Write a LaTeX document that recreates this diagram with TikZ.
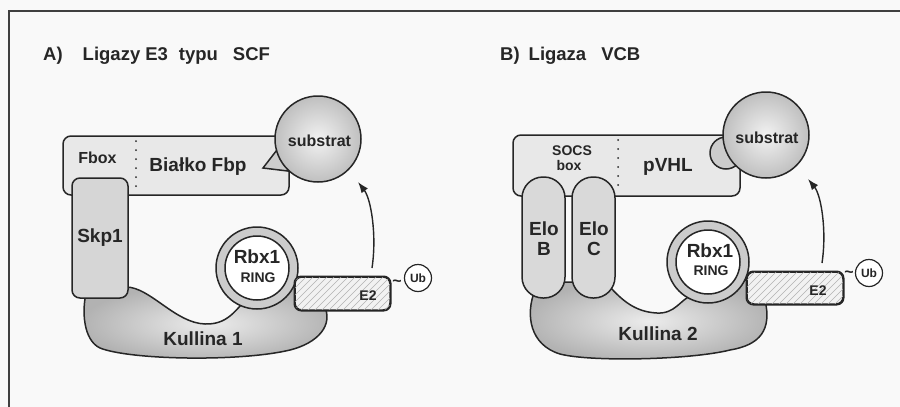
\documentclass[tikz,border=0pt]{standalone}
\usepackage{fontspec}
\setmainfont{Liberation Sans}
\usetikzlibrary{arrows.meta}

\begin{document}
\begin{tikzpicture}[x=1pt,y=-1pt,
  outline/.style={draw=black!85,line width=1.5pt},
  protbox/.style={outline,rectangle,rounded corners=8pt,fill=gray!18,inner sep=0pt},
  skpbox/.style={outline,rectangle,rounded corners=8pt,fill=gray!32,inner sep=0pt,minimum width=56pt,minimum height=120pt},
  elobox/.style={outline,rectangle,rounded corners=21pt,fill=gray!30,inner sep=0pt,minimum width=43pt,minimum height=121pt},
  substr/.style={outline,circle,inner sep=0pt,minimum size=86pt,inner color=gray!10,outer color=gray!50},
  ringouter/.style={outline,circle,fill=gray!40,inner sep=0pt,minimum size=82pt},
  ringinner/.style={outline,circle,fill=white,inner sep=0pt,minimum size=64pt},
  e2box/.style={outline,rectangle,rounded corners=7pt,fill=gray!10,inner sep=0pt,minimum width=95pt,minimum height=33pt},
  ubcirc/.style={outline,line width=1.2pt,circle,fill=white,inner sep=0pt,minimum size=27pt,text=black!85,font=\bfseries\fontsize{12}{12}\selectfont},
  hatch/.style={gray!60,line width=0.6pt},
  lbl/.style={inner sep=0pt,anchor=base,text=black!85,font=\bfseries\fontsize{19}{19}\selectfont},
  lblsmall/.style={lbl,font=\bfseries\fontsize{14}{14}\selectfont},
  lblmid/.style={lbl,font=\bfseries\fontsize{16}{16}\selectfont},
  title/.style={lbl,anchor=base west,font=\bfseries\fontsize{18.5}{18.5}\selectfont},
  dots/.style={black!85,line width=2pt,line cap=round,dash pattern=on 0pt off 9pt},
  ubarrow/.style={black!85,line width=1.4pt,-{Latex[length=11pt,width=8pt]}},
]
\useasboundingbox (0,0) rectangle (900,407);
\fill[gray!5] (0,0) rectangle (900,407);
\draw[line width=2pt,black!75] (9,407) -- (9,11) -- (900,11);

% A) SCF
\node[title] (ttlA) at (43,60) {A)\hspace{20pt}Ligazy\hspace{5pt}E3\hspace{11pt}typu\hspace{15pt}SCF};

\node[protbox,minimum width=226pt,minimum height=59pt] (fbpA) at (176,165.5) {};
\draw[dots] (136,141) -- (136,193);

\draw[outline,fill=gray!40] (263,168) -- (280,146) -- (296,172) -- cycle;
\node[substr] (subA) at (318,139) {};

\draw[outline,inner color=gray!15,outer color=gray!60] (126,287)
  .. controls (150,287) and (175,323) .. (205,324)
  .. controls (232,325) and (238,303) .. (250,298)
  -- (280,285) -- (305,285) -- (324,305)
  .. controls (334,325) and (318,343) .. (290,350)
  .. controls (240,362) and (130,360) .. (100,348)
  .. controls (83,340) and (82,310) .. (86,294) -- cycle;

\node[skpbox] (skpA) at (100,238) {};

\node[ringouter] (ringA) at (257,268) {};
\node[ringinner] (rbxA) at (ringA.center) {};

\node[e2box] (e2A) at (342.5,293.5) {};
\begin{scope}
  \clip[rounded corners=7pt] (e2A.south west) rectangle (e2A.north east);
  \foreach \h in {250,257,...,400}
    \draw[hatch] (\h,312) -- ++(36,-36);
\end{scope}
\draw[outline,rounded corners=7pt] (e2A.south west) rectangle (e2A.north east);

\node[lblmid] (tilA) at (397,286) {\textasciitilde};
\node[ubcirc] (ubA) at (418,278) {Ub};

\coordinate (arrA0) at (372,268);
\coordinate (arrA1) at (358,182);
\draw[ubarrow] (arrA0) .. controls (377,235) and (371,199) .. (arrA1);

\node[lblmid] (fboxA) at (97.5,163) {Fbox};
\node[lbl] (fbpAtxt) at (198,171) {Białko Fbp};
\node[lblmid] (subAtxt) at (319.5,146) {substrat};
\node[lbl] (skpAtxt) at (100,242) {Skp1};
\node[lbl] (rbxAtxt) at (257,263) {Rbx1};
\node[lblsmall] (ringAtxt) at (258,282) {RING};
\node[lbl] (kulAtxt) at (203,345) {Kullina 1};
\node[lblsmall] (e2Atxt) at (368,300) {E2};

% B) VCB
\node[title] (ttlB) at (500,60) {B)\hspace{9pt}Ligaza\hspace{15pt}VCB};

\node[protbox,minimum width=227pt,minimum height=61pt] (vhlB) at (626.5,165.5) {};
\draw[dots] (618,140) -- (618,193);

\draw[outline,fill=gray!40] (726,153) circle (16pt);
\node[substr] (subB) at (766,135) {};

\draw[outline,inner color=gray!15,outer color=gray!60] (610,287)
  .. controls (622,300) and (635,312) .. (657,313)
  .. controls (675,314) and (680,300) .. (692,295)
  -- (730,280) -- (755,280) -- (765,300)
  .. controls (772,330) and (760,345) .. (730,350)
  .. controls (690,360) and (590,362) .. (560,354)
  .. controls (530,345) and (525,315) .. (535,290)
  -- (550,282) -- (600,282) -- cycle;

\node[elobox] (eloB) at (543.5,237.5) {};
\node[elobox] (eloC) at (593.5,237.5) {};

\node[ringouter] (ringB) at (708,262) {};
\node[ringinner] (rbxB) at (ringB.center) {};

\node[e2box,minimum width=96pt,minimum height=32pt] (e2B) at (795,288) {};
\begin{scope}
  \clip[rounded corners=7pt] (e2B.south west) rectangle (e2B.north east);
  \foreach \h in {700,707,...,850}
    \draw[hatch] (\h,306) -- ++(36,-36);
\end{scope}
\draw[outline,rounded corners=7pt] (e2B.south west) rectangle (e2B.north east);

\node[lblmid] (tilB) at (849,277) {\textasciitilde};
\node[ubcirc] (ubB) at (869,273) {Ub};

\coordinate (arrB0) at (822,263);
\coordinate (arrB1) at (808,179);
\draw[ubarrow] (arrB0) .. controls (827,230) and (821,195) .. (arrB1);

\node[lblsmall] (socsB) at (572,155) {SOCS};
\node[lblsmall] (boxB) at (569,170) {box};
\node[lbl] (vhlBtxt) at (668,171) {pVHL};
\node[lblmid] (subBtxt) at (767,143) {substrat};
\node[lbl] (eloBtxt) at (544,235) {Elo};
\node[lbl] (eloBlet) at (544,255) {B};
\node[lbl] (eloCtxt) at (594,235) {Elo};
\node[lbl] (eloClet) at (594,255) {C};
\node[lbl] (rbxBtxt) at (710,257) {Rbx1};
\node[lblsmall] (ringBtxt) at (711,275) {RING};
\node[lbl] (kulBtxt) at (658,340) {Kullina 2};
\node[lblsmall] (e2Btxt) at (818,295) {E2};
\end{tikzpicture}
\end{document}
